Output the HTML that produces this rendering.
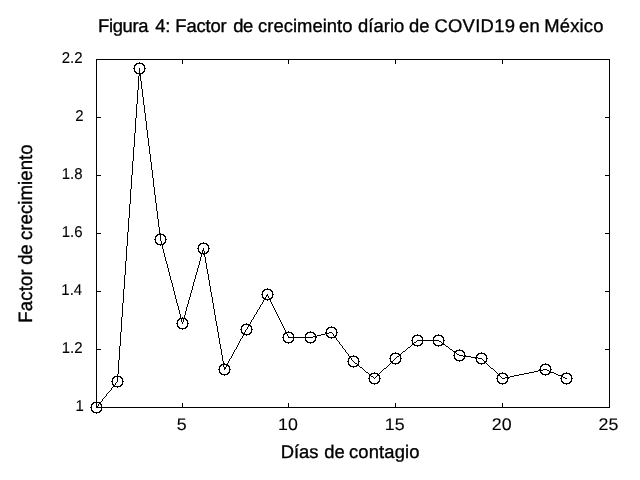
<!DOCTYPE html>
<html lang="es">
<head>
<meta charset="utf-8">
<title>Figura 4: Factor de crecimeinto díario de COVID19 en México</title>
<style>
html,body{margin:0;padding:0;background:#fff;}
body{width:640px;height:480px;overflow:hidden;}
svg{display:block;}
text{font-family:"Liberation Sans",Arial,Helvetica,sans-serif;fill:#000;stroke:#000;stroke-width:0.35px;stroke-linejoin:round;text-rendering:geometricPrecision;}
.t{font-size:18.4px;}
.l{font-size:18.4px;}
.yl{font-size:19.3px;}
.kx text{font-size:16.8px;stroke-width:0.1px;}
.ky text{font-size:15.7px;stroke-width:0.1px;}
</style>
</head>
<body>
<svg width="640" height="480" viewBox="0 0 640 480">
<rect width="640" height="480" fill="#fff"/>
<path shape-rendering="crispEdges" fill="#000" d="M96 59h514v1h-514zM96 60h1v1h-1zM182 60h1v1h-1zM288 60h1v1h-1zM395 60h1v1h-1zM502 60h1v1h-1zM609 60h1v1h-1zM96 61h1v1h-1zM182 61h1v1h-1zM288 61h1v1h-1zM395 61h1v1h-1zM502 61h1v1h-1zM609 61h1v1h-1zM96 62h1v1h-1zM139 62h1v1h-1zM182 62h1v1h-1zM288 62h1v1h-1zM395 62h1v1h-1zM502 62h1v1h-1zM609 62h1v1h-1zM96 63h1v1h-1zM136 63h7v1h-7zM182 63h1v1h-1zM288 63h1v1h-1zM395 63h1v1h-1zM502 63h1v1h-1zM609 63h1v1h-1zM96 64h1v1h-1zM135 64h2v1h-2zM142 64h2v1h-2zM609 64h1v1h-1zM96 65h1v1h-1zM134 65h2v1h-2zM143 65h2v1h-2zM609 65h1v1h-1zM96 66h1v1h-1zM134 66h1v1h-1zM144 66h1v1h-1zM609 66h1v1h-1zM96 67h1v1h-1zM134 67h1v1h-1zM144 67h1v1h-1zM609 67h1v1h-1zM96 68h1v1h-1zM133 68h2v1h-2zM139 68h1v1h-1zM144 68h2v1h-2zM609 68h1v1h-1zM96 69h1v1h-1zM134 69h1v1h-1zM139 69h1v1h-1zM144 69h1v1h-1zM609 69h1v1h-1zM96 70h1v1h-1zM134 70h1v1h-1zM139 70h1v1h-1zM144 70h1v1h-1zM609 70h1v1h-1zM96 71h1v1h-1zM134 71h2v1h-2zM139 71h1v1h-1zM143 71h2v1h-2zM609 71h1v1h-1zM96 72h1v1h-1zM135 72h2v1h-2zM139 72h1v1h-1zM142 72h2v1h-2zM609 72h1v1h-1zM96 73h1v1h-1zM136 73h7v1h-7zM609 73h1v1h-1zM96 74h1v1h-1zM139 74h2v1h-2zM609 74h1v1h-1zM96 75h1v1h-1zM139 75h2v1h-2zM609 75h1v1h-1zM96 76h1v1h-1zM138 76h1v1h-1zM140 76h1v1h-1zM609 76h1v1h-1zM96 77h1v1h-1zM138 77h1v1h-1zM140 77h1v1h-1zM609 77h1v1h-1zM96 78h1v1h-1zM138 78h1v1h-1zM140 78h1v1h-1zM609 78h1v1h-1zM96 79h1v1h-1zM138 79h1v1h-1zM140 79h1v1h-1zM609 79h1v1h-1zM96 80h1v1h-1zM138 80h1v1h-1zM140 80h1v1h-1zM609 80h1v1h-1zM96 81h1v1h-1zM138 81h1v1h-1zM141 81h1v1h-1zM609 81h1v1h-1zM96 82h1v1h-1zM138 82h1v1h-1zM141 82h1v1h-1zM609 82h1v1h-1zM96 83h1v1h-1zM138 83h1v1h-1zM141 83h1v1h-1zM609 83h1v1h-1zM96 84h1v1h-1zM138 84h1v1h-1zM141 84h1v1h-1zM609 84h1v1h-1zM96 85h1v1h-1zM138 85h1v1h-1zM141 85h1v1h-1zM609 85h1v1h-1zM96 86h1v1h-1zM138 86h1v1h-1zM141 86h1v1h-1zM609 86h1v1h-1zM96 87h1v1h-1zM138 87h1v1h-1zM141 87h1v1h-1zM609 87h1v1h-1zM96 88h1v1h-1zM138 88h1v1h-1zM141 88h1v1h-1zM609 88h1v1h-1zM96 89h1v1h-1zM138 89h1v1h-1zM142 89h1v1h-1zM609 89h1v1h-1zM96 90h1v1h-1zM137 90h1v1h-1zM142 90h1v1h-1zM609 90h1v1h-1zM96 91h1v1h-1zM137 91h1v1h-1zM142 91h1v1h-1zM609 91h1v1h-1zM96 92h1v1h-1zM137 92h1v1h-1zM142 92h1v1h-1zM609 92h1v1h-1zM96 93h1v1h-1zM137 93h1v1h-1zM142 93h1v1h-1zM609 93h1v1h-1zM96 94h1v1h-1zM137 94h1v1h-1zM142 94h1v1h-1zM609 94h1v1h-1zM96 95h1v1h-1zM137 95h1v1h-1zM142 95h1v1h-1zM609 95h1v1h-1zM96 96h1v1h-1zM137 96h1v1h-1zM142 96h1v1h-1zM609 96h1v1h-1zM96 97h1v1h-1zM137 97h1v1h-1zM143 97h1v1h-1zM609 97h1v1h-1zM96 98h1v1h-1zM137 98h1v1h-1zM143 98h1v1h-1zM609 98h1v1h-1zM96 99h1v1h-1zM137 99h1v1h-1zM143 99h1v1h-1zM609 99h1v1h-1zM96 100h1v1h-1zM137 100h1v1h-1zM143 100h1v1h-1zM609 100h1v1h-1zM96 101h1v1h-1zM137 101h1v1h-1zM143 101h1v1h-1zM609 101h1v1h-1zM96 102h1v1h-1zM137 102h1v1h-1zM143 102h1v1h-1zM609 102h1v1h-1zM96 103h1v1h-1zM137 103h1v1h-1zM143 103h1v1h-1zM609 103h1v1h-1zM96 104h1v1h-1zM136 104h1v1h-1zM143 104h1v1h-1zM609 104h1v1h-1zM96 105h1v1h-1zM136 105h1v1h-1zM144 105h1v1h-1zM609 105h1v1h-1zM96 106h1v1h-1zM136 106h1v1h-1zM144 106h1v1h-1zM609 106h1v1h-1zM96 107h1v1h-1zM136 107h1v1h-1zM144 107h1v1h-1zM609 107h1v1h-1zM96 108h1v1h-1zM136 108h1v1h-1zM144 108h1v1h-1zM609 108h1v1h-1zM96 109h1v1h-1zM136 109h1v1h-1zM144 109h1v1h-1zM609 109h1v1h-1zM96 110h1v1h-1zM136 110h1v1h-1zM144 110h1v1h-1zM609 110h1v1h-1zM96 111h1v1h-1zM136 111h1v1h-1zM144 111h1v1h-1zM609 111h1v1h-1zM96 112h1v1h-1zM136 112h1v1h-1zM144 112h1v1h-1zM609 112h1v1h-1zM96 113h1v1h-1zM136 113h1v1h-1zM145 113h1v1h-1zM609 113h1v1h-1zM96 114h1v1h-1zM136 114h1v1h-1zM145 114h1v1h-1zM609 114h1v1h-1zM96 115h1v1h-1zM136 115h1v1h-1zM145 115h1v1h-1zM609 115h1v1h-1zM96 116h1v1h-1zM136 116h1v1h-1zM145 116h1v1h-1zM609 116h1v1h-1zM96 117h5v1h-5zM136 117h1v1h-1zM145 117h1v1h-1zM605 117h5v1h-5zM96 118h1v1h-1zM135 118h1v1h-1zM145 118h1v1h-1zM609 118h1v1h-1zM96 119h1v1h-1zM135 119h1v1h-1zM145 119h1v1h-1zM609 119h1v1h-1zM96 120h1v1h-1zM135 120h1v1h-1zM145 120h1v1h-1zM609 120h1v1h-1zM96 121h1v1h-1zM135 121h1v1h-1zM146 121h1v1h-1zM609 121h1v1h-1zM96 122h1v1h-1zM135 122h1v1h-1zM146 122h1v1h-1zM609 122h1v1h-1zM96 123h1v1h-1zM135 123h1v1h-1zM146 123h1v1h-1zM609 123h1v1h-1zM96 124h1v1h-1zM135 124h1v1h-1zM146 124h1v1h-1zM609 124h1v1h-1zM96 125h1v1h-1zM135 125h1v1h-1zM146 125h1v1h-1zM609 125h1v1h-1zM96 126h1v1h-1zM135 126h1v1h-1zM146 126h1v1h-1zM609 126h1v1h-1zM96 127h1v1h-1zM135 127h1v1h-1zM146 127h1v1h-1zM609 127h1v1h-1zM96 128h1v1h-1zM135 128h1v1h-1zM146 128h1v1h-1zM609 128h1v1h-1zM96 129h1v1h-1zM135 129h1v1h-1zM146 129h1v1h-1zM609 129h1v1h-1zM96 130h1v1h-1zM135 130h1v1h-1zM147 130h1v1h-1zM609 130h1v1h-1zM96 131h1v1h-1zM135 131h1v1h-1zM147 131h1v1h-1zM609 131h1v1h-1zM96 132h1v1h-1zM135 132h1v1h-1zM147 132h1v1h-1zM609 132h1v1h-1zM96 133h1v1h-1zM134 133h1v1h-1zM147 133h1v1h-1zM609 133h1v1h-1zM96 134h1v1h-1zM134 134h1v1h-1zM147 134h1v1h-1zM609 134h1v1h-1zM96 135h1v1h-1zM134 135h1v1h-1zM147 135h1v1h-1zM609 135h1v1h-1zM96 136h1v1h-1zM134 136h1v1h-1zM147 136h1v1h-1zM609 136h1v1h-1zM96 137h1v1h-1zM134 137h1v1h-1zM147 137h1v1h-1zM609 137h1v1h-1zM96 138h1v1h-1zM134 138h1v1h-1zM148 138h1v1h-1zM609 138h1v1h-1zM96 139h1v1h-1zM134 139h1v1h-1zM148 139h1v1h-1zM609 139h1v1h-1zM96 140h1v1h-1zM134 140h1v1h-1zM148 140h1v1h-1zM609 140h1v1h-1zM96 141h1v1h-1zM134 141h1v1h-1zM148 141h1v1h-1zM609 141h1v1h-1zM96 142h1v1h-1zM134 142h1v1h-1zM148 142h1v1h-1zM609 142h1v1h-1zM96 143h1v1h-1zM134 143h1v1h-1zM148 143h1v1h-1zM609 143h1v1h-1zM96 144h1v1h-1zM134 144h1v1h-1zM148 144h1v1h-1zM609 144h1v1h-1zM96 145h1v1h-1zM134 145h1v1h-1zM148 145h1v1h-1zM609 145h1v1h-1zM96 146h1v1h-1zM134 146h1v1h-1zM149 146h1v1h-1zM609 146h1v1h-1zM96 147h1v1h-1zM133 147h1v1h-1zM149 147h1v1h-1zM609 147h1v1h-1zM96 148h1v1h-1zM133 148h1v1h-1zM149 148h1v1h-1zM609 148h1v1h-1zM96 149h1v1h-1zM133 149h1v1h-1zM149 149h1v1h-1zM609 149h1v1h-1zM96 150h1v1h-1zM133 150h1v1h-1zM149 150h1v1h-1zM609 150h1v1h-1zM96 151h1v1h-1zM133 151h1v1h-1zM149 151h1v1h-1zM609 151h1v1h-1zM96 152h1v1h-1zM133 152h1v1h-1zM149 152h1v1h-1zM609 152h1v1h-1zM96 153h1v1h-1zM133 153h1v1h-1zM149 153h1v1h-1zM609 153h1v1h-1zM96 154h1v1h-1zM133 154h1v1h-1zM150 154h1v1h-1zM609 154h1v1h-1zM96 155h1v1h-1zM133 155h1v1h-1zM150 155h1v1h-1zM609 155h1v1h-1zM96 156h1v1h-1zM133 156h1v1h-1zM150 156h1v1h-1zM609 156h1v1h-1zM96 157h1v1h-1zM133 157h1v1h-1zM150 157h1v1h-1zM609 157h1v1h-1zM96 158h1v1h-1zM133 158h1v1h-1zM150 158h1v1h-1zM609 158h1v1h-1zM96 159h1v1h-1zM133 159h1v1h-1zM150 159h1v1h-1zM609 159h1v1h-1zM96 160h1v1h-1zM133 160h1v1h-1zM150 160h1v1h-1zM609 160h1v1h-1zM96 161h1v1h-1zM132 161h1v1h-1zM150 161h1v1h-1zM609 161h1v1h-1zM96 162h1v1h-1zM132 162h1v1h-1zM151 162h1v1h-1zM609 162h1v1h-1zM96 163h1v1h-1zM132 163h1v1h-1zM151 163h1v1h-1zM609 163h1v1h-1zM96 164h1v1h-1zM132 164h1v1h-1zM151 164h1v1h-1zM609 164h1v1h-1zM96 165h1v1h-1zM132 165h1v1h-1zM151 165h1v1h-1zM609 165h1v1h-1zM96 166h1v1h-1zM132 166h1v1h-1zM151 166h1v1h-1zM609 166h1v1h-1zM96 167h1v1h-1zM132 167h1v1h-1zM151 167h1v1h-1zM609 167h1v1h-1zM96 168h1v1h-1zM132 168h1v1h-1zM151 168h1v1h-1zM609 168h1v1h-1zM96 169h1v1h-1zM132 169h1v1h-1zM151 169h1v1h-1zM609 169h1v1h-1zM96 170h1v1h-1zM132 170h1v1h-1zM152 170h1v1h-1zM609 170h1v1h-1zM96 171h1v1h-1zM132 171h1v1h-1zM152 171h1v1h-1zM609 171h1v1h-1zM96 172h1v1h-1zM132 172h1v1h-1zM152 172h1v1h-1zM609 172h1v1h-1zM96 173h1v1h-1zM132 173h1v1h-1zM152 173h1v1h-1zM609 173h1v1h-1zM96 174h1v1h-1zM132 174h1v1h-1zM152 174h1v1h-1zM609 174h1v1h-1zM96 175h5v1h-5zM131 175h1v1h-1zM152 175h1v1h-1zM605 175h5v1h-5zM96 176h1v1h-1zM131 176h1v1h-1zM152 176h1v1h-1zM609 176h1v1h-1zM96 177h1v1h-1zM131 177h1v1h-1zM152 177h1v1h-1zM609 177h1v1h-1zM96 178h1v1h-1zM131 178h1v1h-1zM153 178h1v1h-1zM609 178h1v1h-1zM96 179h1v1h-1zM131 179h1v1h-1zM153 179h1v1h-1zM609 179h1v1h-1zM96 180h1v1h-1zM131 180h1v1h-1zM153 180h1v1h-1zM609 180h1v1h-1zM96 181h1v1h-1zM131 181h1v1h-1zM153 181h1v1h-1zM609 181h1v1h-1zM96 182h1v1h-1zM131 182h1v1h-1zM153 182h1v1h-1zM609 182h1v1h-1zM96 183h1v1h-1zM131 183h1v1h-1zM153 183h1v1h-1zM609 183h1v1h-1zM96 184h1v1h-1zM131 184h1v1h-1zM153 184h1v1h-1zM609 184h1v1h-1zM96 185h1v1h-1zM131 185h1v1h-1zM153 185h1v1h-1zM609 185h1v1h-1zM96 186h1v1h-1zM131 186h1v1h-1zM153 186h1v1h-1zM609 186h1v1h-1zM96 187h1v1h-1zM131 187h1v1h-1zM154 187h1v1h-1zM609 187h1v1h-1zM96 188h1v1h-1zM131 188h1v1h-1zM154 188h1v1h-1zM609 188h1v1h-1zM96 189h1v1h-1zM130 189h1v1h-1zM154 189h1v1h-1zM609 189h1v1h-1zM96 190h1v1h-1zM130 190h1v1h-1zM154 190h1v1h-1zM609 190h1v1h-1zM96 191h1v1h-1zM130 191h1v1h-1zM154 191h1v1h-1zM609 191h1v1h-1zM96 192h1v1h-1zM130 192h1v1h-1zM154 192h1v1h-1zM609 192h1v1h-1zM96 193h1v1h-1zM130 193h1v1h-1zM154 193h1v1h-1zM609 193h1v1h-1zM96 194h1v1h-1zM130 194h1v1h-1zM154 194h1v1h-1zM609 194h1v1h-1zM96 195h1v1h-1zM130 195h1v1h-1zM155 195h1v1h-1zM609 195h1v1h-1zM96 196h1v1h-1zM130 196h1v1h-1zM155 196h1v1h-1zM609 196h1v1h-1zM96 197h1v1h-1zM130 197h1v1h-1zM155 197h1v1h-1zM609 197h1v1h-1zM96 198h1v1h-1zM130 198h1v1h-1zM155 198h1v1h-1zM609 198h1v1h-1zM96 199h1v1h-1zM130 199h1v1h-1zM155 199h1v1h-1zM609 199h1v1h-1zM96 200h1v1h-1zM130 200h1v1h-1zM155 200h1v1h-1zM609 200h1v1h-1zM96 201h1v1h-1zM130 201h1v1h-1zM155 201h1v1h-1zM609 201h1v1h-1zM96 202h1v1h-1zM130 202h1v1h-1zM155 202h1v1h-1zM609 202h1v1h-1zM96 203h1v1h-1zM130 203h1v1h-1zM156 203h1v1h-1zM609 203h1v1h-1zM96 204h1v1h-1zM129 204h1v1h-1zM156 204h1v1h-1zM609 204h1v1h-1zM96 205h1v1h-1zM129 205h1v1h-1zM156 205h1v1h-1zM609 205h1v1h-1zM96 206h1v1h-1zM129 206h1v1h-1zM156 206h1v1h-1zM609 206h1v1h-1zM96 207h1v1h-1zM129 207h1v1h-1zM156 207h1v1h-1zM609 207h1v1h-1zM96 208h1v1h-1zM129 208h1v1h-1zM156 208h1v1h-1zM609 208h1v1h-1zM96 209h1v1h-1zM129 209h1v1h-1zM156 209h1v1h-1zM609 209h1v1h-1zM96 210h1v1h-1zM129 210h1v1h-1zM156 210h1v1h-1zM609 210h1v1h-1zM96 211h1v1h-1zM129 211h1v1h-1zM157 211h1v1h-1zM609 211h1v1h-1zM96 212h1v1h-1zM129 212h1v1h-1zM157 212h1v1h-1zM609 212h1v1h-1zM96 213h1v1h-1zM129 213h1v1h-1zM157 213h1v1h-1zM609 213h1v1h-1zM96 214h1v1h-1zM129 214h1v1h-1zM157 214h1v1h-1zM609 214h1v1h-1zM96 215h1v1h-1zM129 215h1v1h-1zM157 215h1v1h-1zM609 215h1v1h-1zM96 216h1v1h-1zM129 216h1v1h-1zM157 216h1v1h-1zM609 216h1v1h-1zM96 217h1v1h-1zM129 217h1v1h-1zM157 217h1v1h-1zM609 217h1v1h-1zM96 218h1v1h-1zM128 218h1v1h-1zM157 218h1v1h-1zM609 218h1v1h-1zM96 219h1v1h-1zM128 219h1v1h-1zM158 219h1v1h-1zM609 219h1v1h-1zM96 220h1v1h-1zM128 220h1v1h-1zM158 220h1v1h-1zM609 220h1v1h-1zM96 221h1v1h-1zM128 221h1v1h-1zM158 221h1v1h-1zM609 221h1v1h-1zM96 222h1v1h-1zM128 222h1v1h-1zM158 222h1v1h-1zM609 222h1v1h-1zM96 223h1v1h-1zM128 223h1v1h-1zM158 223h1v1h-1zM609 223h1v1h-1zM96 224h1v1h-1zM128 224h1v1h-1zM158 224h1v1h-1zM609 224h1v1h-1zM96 225h1v1h-1zM128 225h1v1h-1zM158 225h1v1h-1zM609 225h1v1h-1zM96 226h1v1h-1zM128 226h1v1h-1zM158 226h1v1h-1zM609 226h1v1h-1zM96 227h1v1h-1zM128 227h1v1h-1zM159 227h1v1h-1zM609 227h1v1h-1zM96 228h1v1h-1zM128 228h1v1h-1zM159 228h1v1h-1zM609 228h1v1h-1zM96 229h1v1h-1zM128 229h1v1h-1zM159 229h1v1h-1zM609 229h1v1h-1zM96 230h1v1h-1zM128 230h1v1h-1zM159 230h1v1h-1zM609 230h1v1h-1zM96 231h1v1h-1zM128 231h1v1h-1zM159 231h1v1h-1zM609 231h1v1h-1zM96 232h1v1h-1zM127 232h1v1h-1zM159 232h1v1h-1zM609 232h1v1h-1zM96 233h5v1h-5zM127 233h1v1h-1zM159 233h2v1h-2zM605 233h5v1h-5zM96 234h1v1h-1zM127 234h1v1h-1zM157 234h7v1h-7zM609 234h1v1h-1zM96 235h1v1h-1zM127 235h1v1h-1zM156 235h2v1h-2zM160 235h1v1h-1zM163 235h2v1h-2zM609 235h1v1h-1zM96 236h1v1h-1zM127 236h1v1h-1zM155 236h2v1h-2zM160 236h1v1h-1zM164 236h2v1h-2zM609 236h1v1h-1zM96 237h1v1h-1zM127 237h1v1h-1zM155 237h1v1h-1zM160 237h1v1h-1zM165 237h1v1h-1zM609 237h1v1h-1zM96 238h1v1h-1zM127 238h1v1h-1zM155 238h1v1h-1zM160 238h1v1h-1zM165 238h1v1h-1zM609 238h1v1h-1zM96 239h1v1h-1zM127 239h1v1h-1zM154 239h2v1h-2zM160 239h1v1h-1zM165 239h2v1h-2zM609 239h1v1h-1zM96 240h1v1h-1zM127 240h1v1h-1zM155 240h1v1h-1zM160 240h1v1h-1zM165 240h1v1h-1zM609 240h1v1h-1zM96 241h1v1h-1zM127 241h1v1h-1zM155 241h1v1h-1zM161 241h1v1h-1zM165 241h1v1h-1zM609 241h1v1h-1zM96 242h1v1h-1zM127 242h1v1h-1zM155 242h2v1h-2zM161 242h1v1h-1zM164 242h2v1h-2zM203 242h1v1h-1zM609 242h1v1h-1zM96 243h1v1h-1zM127 243h1v1h-1zM156 243h2v1h-2zM161 243h1v1h-1zM163 243h2v1h-2zM200 243h7v1h-7zM609 243h1v1h-1zM96 244h1v1h-1zM127 244h1v1h-1zM157 244h7v1h-7zM199 244h2v1h-2zM206 244h2v1h-2zM609 244h1v1h-1zM96 245h1v1h-1zM127 245h1v1h-1zM160 245h1v1h-1zM162 245h1v1h-1zM198 245h2v1h-2zM207 245h2v1h-2zM609 245h1v1h-1zM96 246h1v1h-1zM126 246h1v1h-1zM162 246h1v1h-1zM198 246h1v1h-1zM208 246h1v1h-1zM609 246h1v1h-1zM96 247h1v1h-1zM126 247h1v1h-1zM162 247h1v1h-1zM198 247h1v1h-1zM208 247h1v1h-1zM609 247h1v1h-1zM96 248h1v1h-1zM126 248h1v1h-1zM162 248h1v1h-1zM197 248h2v1h-2zM203 248h1v1h-1zM208 248h2v1h-2zM609 248h1v1h-1zM96 249h1v1h-1zM126 249h1v1h-1zM163 249h1v1h-1zM198 249h1v1h-1zM203 249h1v1h-1zM208 249h1v1h-1zM609 249h1v1h-1zM96 250h1v1h-1zM126 250h1v1h-1zM163 250h1v1h-1zM198 250h1v1h-1zM202 250h2v1h-2zM208 250h1v1h-1zM609 250h1v1h-1zM96 251h1v1h-1zM126 251h1v1h-1zM163 251h1v1h-1zM198 251h2v1h-2zM202 251h1v1h-1zM204 251h1v1h-1zM207 251h2v1h-2zM609 251h1v1h-1zM96 252h1v1h-1zM126 252h1v1h-1zM163 252h1v1h-1zM199 252h2v1h-2zM202 252h1v1h-1zM204 252h1v1h-1zM206 252h2v1h-2zM609 252h1v1h-1zM96 253h1v1h-1zM126 253h1v1h-1zM164 253h1v1h-1zM200 253h7v1h-7zM609 253h1v1h-1zM96 254h1v1h-1zM126 254h1v1h-1zM164 254h1v1h-1zM201 254h1v1h-1zM203 254h2v1h-2zM609 254h1v1h-1zM96 255h1v1h-1zM126 255h1v1h-1zM164 255h1v1h-1zM201 255h1v1h-1zM204 255h1v1h-1zM609 255h1v1h-1zM96 256h1v1h-1zM126 256h1v1h-1zM164 256h1v1h-1zM201 256h1v1h-1zM204 256h1v1h-1zM609 256h1v1h-1zM96 257h1v1h-1zM126 257h1v1h-1zM165 257h1v1h-1zM200 257h1v1h-1zM205 257h1v1h-1zM609 257h1v1h-1zM96 258h1v1h-1zM126 258h1v1h-1zM165 258h1v1h-1zM200 258h1v1h-1zM205 258h1v1h-1zM609 258h1v1h-1zM96 259h1v1h-1zM126 259h1v1h-1zM165 259h1v1h-1zM200 259h1v1h-1zM205 259h1v1h-1zM609 259h1v1h-1zM96 260h1v1h-1zM126 260h1v1h-1zM165 260h1v1h-1zM200 260h1v1h-1zM205 260h1v1h-1zM609 260h1v1h-1zM96 261h1v1h-1zM125 261h1v1h-1zM166 261h1v1h-1zM199 261h1v1h-1zM205 261h1v1h-1zM609 261h1v1h-1zM96 262h1v1h-1zM125 262h1v1h-1zM166 262h1v1h-1zM199 262h1v1h-1zM205 262h1v1h-1zM609 262h1v1h-1zM96 263h1v1h-1zM125 263h1v1h-1zM166 263h1v1h-1zM199 263h1v1h-1zM206 263h1v1h-1zM609 263h1v1h-1zM96 264h1v1h-1zM125 264h1v1h-1zM167 264h1v1h-1zM199 264h1v1h-1zM206 264h1v1h-1zM609 264h1v1h-1zM96 265h1v1h-1zM125 265h1v1h-1zM167 265h1v1h-1zM198 265h1v1h-1zM206 265h1v1h-1zM609 265h1v1h-1zM96 266h1v1h-1zM125 266h1v1h-1zM167 266h1v1h-1zM198 266h1v1h-1zM206 266h1v1h-1zM609 266h1v1h-1zM96 267h1v1h-1zM125 267h1v1h-1zM167 267h1v1h-1zM198 267h1v1h-1zM206 267h1v1h-1zM609 267h1v1h-1zM96 268h1v1h-1zM125 268h1v1h-1zM168 268h1v1h-1zM197 268h1v1h-1zM206 268h1v1h-1zM609 268h1v1h-1zM96 269h1v1h-1zM125 269h1v1h-1zM168 269h1v1h-1zM197 269h1v1h-1zM207 269h1v1h-1zM609 269h1v1h-1zM96 270h1v1h-1zM125 270h1v1h-1zM168 270h1v1h-1zM197 270h1v1h-1zM207 270h1v1h-1zM609 270h1v1h-1zM96 271h1v1h-1zM125 271h1v1h-1zM168 271h1v1h-1zM197 271h1v1h-1zM207 271h1v1h-1zM609 271h1v1h-1zM96 272h1v1h-1zM125 272h1v1h-1zM169 272h1v1h-1zM196 272h1v1h-1zM207 272h1v1h-1zM609 272h1v1h-1zM96 273h1v1h-1zM125 273h1v1h-1zM169 273h1v1h-1zM196 273h1v1h-1zM207 273h1v1h-1zM609 273h1v1h-1zM96 274h1v1h-1zM125 274h1v1h-1zM169 274h1v1h-1zM196 274h1v1h-1zM208 274h1v1h-1zM609 274h1v1h-1zM96 275h1v1h-1zM124 275h1v1h-1zM169 275h1v1h-1zM195 275h1v1h-1zM208 275h1v1h-1zM609 275h1v1h-1zM96 276h1v1h-1zM124 276h1v1h-1zM170 276h1v1h-1zM195 276h1v1h-1zM208 276h1v1h-1zM609 276h1v1h-1zM96 277h1v1h-1zM124 277h1v1h-1zM170 277h1v1h-1zM195 277h1v1h-1zM208 277h1v1h-1zM609 277h1v1h-1zM96 278h1v1h-1zM124 278h1v1h-1zM170 278h1v1h-1zM195 278h1v1h-1zM208 278h1v1h-1zM609 278h1v1h-1zM96 279h1v1h-1zM124 279h1v1h-1zM170 279h1v1h-1zM194 279h1v1h-1zM208 279h1v1h-1zM609 279h1v1h-1zM96 280h1v1h-1zM124 280h1v1h-1zM171 280h1v1h-1zM194 280h1v1h-1zM209 280h1v1h-1zM609 280h1v1h-1zM96 281h1v1h-1zM124 281h1v1h-1zM171 281h1v1h-1zM194 281h1v1h-1zM209 281h1v1h-1zM609 281h1v1h-1zM96 282h1v1h-1zM124 282h1v1h-1zM171 282h1v1h-1zM193 282h1v1h-1zM209 282h1v1h-1zM609 282h1v1h-1zM96 283h1v1h-1zM124 283h1v1h-1zM172 283h1v1h-1zM193 283h1v1h-1zM209 283h1v1h-1zM609 283h1v1h-1zM96 284h1v1h-1zM124 284h1v1h-1zM172 284h1v1h-1zM193 284h1v1h-1zM209 284h1v1h-1zM609 284h1v1h-1zM96 285h1v1h-1zM124 285h1v1h-1zM172 285h1v1h-1zM193 285h1v1h-1zM209 285h1v1h-1zM609 285h1v1h-1zM96 286h1v1h-1zM124 286h1v1h-1zM172 286h1v1h-1zM192 286h1v1h-1zM210 286h1v1h-1zM609 286h1v1h-1zM96 287h1v1h-1zM124 287h1v1h-1zM173 287h1v1h-1zM192 287h1v1h-1zM210 287h1v1h-1zM609 287h1v1h-1zM96 288h1v1h-1zM124 288h1v1h-1zM173 288h1v1h-1zM192 288h1v1h-1zM210 288h1v1h-1zM267 288h1v1h-1zM609 288h1v1h-1zM96 289h1v1h-1zM123 289h1v1h-1zM173 289h1v1h-1zM192 289h1v1h-1zM210 289h1v1h-1zM264 289h7v1h-7zM609 289h1v1h-1zM96 290h1v1h-1zM123 290h1v1h-1zM173 290h1v1h-1zM191 290h1v1h-1zM210 290h1v1h-1zM263 290h2v1h-2zM270 290h2v1h-2zM609 290h1v1h-1zM96 291h5v1h-5zM123 291h1v1h-1zM174 291h1v1h-1zM191 291h1v1h-1zM210 291h1v1h-1zM262 291h2v1h-2zM271 291h2v1h-2zM605 291h5v1h-5zM96 292h1v1h-1zM123 292h1v1h-1zM174 292h1v1h-1zM191 292h1v1h-1zM211 292h1v1h-1zM262 292h1v1h-1zM272 292h1v1h-1zM609 292h1v1h-1zM96 293h1v1h-1zM123 293h1v1h-1zM174 293h1v1h-1zM190 293h1v1h-1zM211 293h1v1h-1zM262 293h1v1h-1zM272 293h1v1h-1zM609 293h1v1h-1zM96 294h1v1h-1zM123 294h1v1h-1zM174 294h1v1h-1zM190 294h1v1h-1zM211 294h1v1h-1zM261 294h2v1h-2zM267 294h1v1h-1zM272 294h2v1h-2zM609 294h1v1h-1zM96 295h1v1h-1zM123 295h1v1h-1zM175 295h1v1h-1zM190 295h1v1h-1zM211 295h1v1h-1zM262 295h1v1h-1zM266 295h2v1h-2zM272 295h1v1h-1zM609 295h1v1h-1zM96 296h1v1h-1zM123 296h1v1h-1zM175 296h1v1h-1zM190 296h1v1h-1zM211 296h1v1h-1zM262 296h1v1h-1zM266 296h1v1h-1zM268 296h1v1h-1zM272 296h1v1h-1zM609 296h1v1h-1zM96 297h1v1h-1zM123 297h1v1h-1zM175 297h1v1h-1zM189 297h1v1h-1zM212 297h1v1h-1zM262 297h2v1h-2zM265 297h1v1h-1zM268 297h1v1h-1zM271 297h2v1h-2zM609 297h1v1h-1zM96 298h1v1h-1zM123 298h1v1h-1zM175 298h1v1h-1zM189 298h1v1h-1zM212 298h1v1h-1zM263 298h3v1h-3zM269 298h3v1h-3zM609 298h1v1h-1zM96 299h1v1h-1zM123 299h1v1h-1zM176 299h1v1h-1zM189 299h1v1h-1zM212 299h1v1h-1zM264 299h7v1h-7zM609 299h1v1h-1zM96 300h1v1h-1zM123 300h1v1h-1zM176 300h1v1h-1zM188 300h1v1h-1zM212 300h1v1h-1zM263 300h1v1h-1zM267 300h1v1h-1zM270 300h1v1h-1zM609 300h1v1h-1zM96 301h1v1h-1zM123 301h1v1h-1zM176 301h1v1h-1zM188 301h1v1h-1zM212 301h1v1h-1zM263 301h1v1h-1zM270 301h1v1h-1zM609 301h1v1h-1zM96 302h1v1h-1zM123 302h1v1h-1zM176 302h1v1h-1zM188 302h1v1h-1zM212 302h1v1h-1zM262 302h1v1h-1zM271 302h1v1h-1zM609 302h1v1h-1zM96 303h1v1h-1zM122 303h1v1h-1zM177 303h1v1h-1zM188 303h1v1h-1zM213 303h1v1h-1zM262 303h1v1h-1zM271 303h1v1h-1zM609 303h1v1h-1zM96 304h1v1h-1zM122 304h1v1h-1zM177 304h1v1h-1zM187 304h1v1h-1zM213 304h1v1h-1zM261 304h1v1h-1zM272 304h1v1h-1zM609 304h1v1h-1zM96 305h1v1h-1zM122 305h1v1h-1zM177 305h1v1h-1zM187 305h1v1h-1zM213 305h1v1h-1zM260 305h1v1h-1zM272 305h1v1h-1zM609 305h1v1h-1zM96 306h1v1h-1zM122 306h1v1h-1zM178 306h1v1h-1zM187 306h1v1h-1zM213 306h1v1h-1zM260 306h1v1h-1zM273 306h1v1h-1zM609 306h1v1h-1zM96 307h1v1h-1zM122 307h1v1h-1zM178 307h1v1h-1zM186 307h1v1h-1zM213 307h1v1h-1zM259 307h1v1h-1zM273 307h1v1h-1zM609 307h1v1h-1zM96 308h1v1h-1zM122 308h1v1h-1zM178 308h1v1h-1zM186 308h1v1h-1zM213 308h1v1h-1zM259 308h1v1h-1zM274 308h1v1h-1zM609 308h1v1h-1zM96 309h1v1h-1zM122 309h1v1h-1zM178 309h1v1h-1zM186 309h1v1h-1zM214 309h1v1h-1zM258 309h1v1h-1zM274 309h1v1h-1zM609 309h1v1h-1zM96 310h1v1h-1zM122 310h1v1h-1zM179 310h1v1h-1zM186 310h1v1h-1zM214 310h1v1h-1zM257 310h1v1h-1zM275 310h1v1h-1zM609 310h1v1h-1zM96 311h1v1h-1zM122 311h1v1h-1zM179 311h1v1h-1zM185 311h1v1h-1zM214 311h1v1h-1zM257 311h1v1h-1zM275 311h1v1h-1zM609 311h1v1h-1zM96 312h1v1h-1zM122 312h1v1h-1zM179 312h1v1h-1zM185 312h1v1h-1zM214 312h1v1h-1zM256 312h1v1h-1zM276 312h1v1h-1zM609 312h1v1h-1zM96 313h1v1h-1zM122 313h1v1h-1zM179 313h1v1h-1zM185 313h1v1h-1zM214 313h1v1h-1zM256 313h1v1h-1zM276 313h1v1h-1zM609 313h1v1h-1zM96 314h1v1h-1zM122 314h1v1h-1zM180 314h1v1h-1zM185 314h1v1h-1zM214 314h1v1h-1zM255 314h1v1h-1zM277 314h1v1h-1zM609 314h1v1h-1zM96 315h1v1h-1zM122 315h1v1h-1zM180 315h1v1h-1zM184 315h1v1h-1zM215 315h1v1h-1zM254 315h1v1h-1zM277 315h1v1h-1zM609 315h1v1h-1zM96 316h1v1h-1zM122 316h1v1h-1zM180 316h1v1h-1zM184 316h1v1h-1zM215 316h1v1h-1zM254 316h1v1h-1zM278 316h1v1h-1zM609 316h1v1h-1zM96 317h1v1h-1zM121 317h1v1h-1zM180 317h1v1h-1zM182 317h1v1h-1zM184 317h1v1h-1zM215 317h1v1h-1zM253 317h1v1h-1zM278 317h1v1h-1zM609 317h1v1h-1zM96 318h1v1h-1zM121 318h1v1h-1zM179 318h7v1h-7zM215 318h1v1h-1zM253 318h1v1h-1zM279 318h1v1h-1zM609 318h1v1h-1zM96 319h1v1h-1zM121 319h1v1h-1zM178 319h2v1h-2zM181 319h1v1h-1zM183 319h1v1h-1zM185 319h2v1h-2zM215 319h1v1h-1zM252 319h1v1h-1zM279 319h1v1h-1zM609 319h1v1h-1zM96 320h1v1h-1zM121 320h1v1h-1zM177 320h2v1h-2zM181 320h1v1h-1zM183 320h1v1h-1zM186 320h2v1h-2zM215 320h1v1h-1zM251 320h1v1h-1zM280 320h1v1h-1zM609 320h1v1h-1zM96 321h1v1h-1zM121 321h1v1h-1zM177 321h1v1h-1zM181 321h1v1h-1zM183 321h1v1h-1zM187 321h1v1h-1zM216 321h1v1h-1zM251 321h1v1h-1zM280 321h1v1h-1zM609 321h1v1h-1zM96 322h1v1h-1zM121 322h1v1h-1zM177 322h1v1h-1zM182 322h1v1h-1zM187 322h1v1h-1zM216 322h1v1h-1zM250 322h1v1h-1zM281 322h1v1h-1zM609 322h1v1h-1zM96 323h1v1h-1zM121 323h1v1h-1zM176 323h2v1h-2zM182 323h1v1h-1zM187 323h2v1h-2zM216 323h1v1h-1zM246 323h1v1h-1zM250 323h1v1h-1zM281 323h1v1h-1zM609 323h1v1h-1zM96 324h1v1h-1zM121 324h1v1h-1zM177 324h1v1h-1zM187 324h1v1h-1zM216 324h1v1h-1zM243 324h7v1h-7zM282 324h1v1h-1zM609 324h1v1h-1zM96 325h1v1h-1zM121 325h1v1h-1zM177 325h1v1h-1zM187 325h1v1h-1zM216 325h1v1h-1zM242 325h2v1h-2zM248 325h3v1h-3zM282 325h1v1h-1zM609 325h1v1h-1zM96 326h1v1h-1zM121 326h1v1h-1zM177 326h2v1h-2zM186 326h2v1h-2zM217 326h1v1h-1zM241 326h2v1h-2zM248 326h1v1h-1zM250 326h2v1h-2zM283 326h1v1h-1zM331 326h1v1h-1zM609 326h1v1h-1zM96 327h1v1h-1zM121 327h1v1h-1zM178 327h2v1h-2zM185 327h2v1h-2zM217 327h1v1h-1zM241 327h1v1h-1zM247 327h1v1h-1zM251 327h1v1h-1zM283 327h1v1h-1zM328 327h7v1h-7zM609 327h1v1h-1zM96 328h1v1h-1zM121 328h1v1h-1zM179 328h7v1h-7zM217 328h1v1h-1zM241 328h1v1h-1zM247 328h1v1h-1zM251 328h1v1h-1zM284 328h1v1h-1zM327 328h2v1h-2zM334 328h2v1h-2zM609 328h1v1h-1zM96 329h1v1h-1zM121 329h1v1h-1zM182 329h1v1h-1zM217 329h1v1h-1zM240 329h2v1h-2zM246 329h1v1h-1zM251 329h2v1h-2zM284 329h1v1h-1zM326 329h2v1h-2zM335 329h2v1h-2zM609 329h1v1h-1zM96 330h1v1h-1zM121 330h1v1h-1zM217 330h1v1h-1zM241 330h1v1h-1zM245 330h1v1h-1zM251 330h1v1h-1zM285 330h1v1h-1zM326 330h1v1h-1zM336 330h1v1h-1zM609 330h1v1h-1zM96 331h1v1h-1zM121 331h1v1h-1zM217 331h1v1h-1zM241 331h1v1h-1zM245 331h1v1h-1zM251 331h1v1h-1zM285 331h1v1h-1zM288 331h1v1h-1zM310 331h1v1h-1zM326 331h1v1h-1zM336 331h1v1h-1zM609 331h1v1h-1zM96 332h1v1h-1zM120 332h1v1h-1zM218 332h1v1h-1zM241 332h2v1h-2zM244 332h1v1h-1zM250 332h2v1h-2zM285 332h7v1h-7zM307 332h7v1h-7zM325 332h2v1h-2zM329 332h3v1h-3zM336 332h2v1h-2zM609 332h1v1h-1zM96 333h1v1h-1zM120 333h1v1h-1zM218 333h1v1h-1zM242 333h3v1h-3zM249 333h2v1h-2zM284 333h3v1h-3zM291 333h2v1h-2zM306 333h2v1h-2zM313 333h2v1h-2zM325 333h4v1h-4zM332 333h1v1h-1zM336 333h1v1h-1zM609 333h1v1h-1zM96 334h1v1h-1zM120 334h1v1h-1zM218 334h1v1h-1zM243 334h7v1h-7zM283 334h2v1h-2zM287 334h1v1h-1zM292 334h2v1h-2zM305 334h2v1h-2zM314 334h2v1h-2zM321 334h4v1h-4zM326 334h1v1h-1zM333 334h1v1h-1zM336 334h1v1h-1zM417 334h1v1h-1zM438 334h1v1h-1zM609 334h1v1h-1zM96 335h1v1h-1zM120 335h1v1h-1zM218 335h1v1h-1zM243 335h1v1h-1zM246 335h1v1h-1zM283 335h1v1h-1zM287 335h1v1h-1zM293 335h1v1h-1zM305 335h1v1h-1zM315 335h1v1h-1zM317 335h4v1h-4zM326 335h2v1h-2zM333 335h1v1h-1zM335 335h2v1h-2zM414 335h7v1h-7zM435 335h7v1h-7zM609 335h1v1h-1zM96 336h1v1h-1zM120 336h1v1h-1zM218 336h1v1h-1zM242 336h1v1h-1zM283 336h1v1h-1zM288 336h1v1h-1zM293 336h1v1h-1zM305 336h1v1h-1zM313 336h4v1h-4zM327 336h2v1h-2zM334 336h2v1h-2zM413 336h2v1h-2zM420 336h2v1h-2zM434 336h2v1h-2zM441 336h2v1h-2zM609 336h1v1h-1zM96 337h1v1h-1zM120 337h1v1h-1zM218 337h1v1h-1zM242 337h1v1h-1zM282 337h2v1h-2zM288 337h25v1h-25zM315 337h2v1h-2zM328 337h8v1h-8zM412 337h2v1h-2zM421 337h2v1h-2zM433 337h2v1h-2zM442 337h2v1h-2zM609 337h1v1h-1zM96 338h1v1h-1zM120 338h1v1h-1zM219 338h1v1h-1zM241 338h1v1h-1zM283 338h1v1h-1zM293 338h1v1h-1zM305 338h1v1h-1zM315 338h1v1h-1zM331 338h1v1h-1zM336 338h1v1h-1zM412 338h1v1h-1zM422 338h1v1h-1zM433 338h1v1h-1zM443 338h1v1h-1zM609 338h1v1h-1zM96 339h1v1h-1zM120 339h1v1h-1zM219 339h1v1h-1zM240 339h1v1h-1zM283 339h1v1h-1zM293 339h1v1h-1zM305 339h1v1h-1zM315 339h1v1h-1zM336 339h1v1h-1zM412 339h1v1h-1zM422 339h1v1h-1zM433 339h1v1h-1zM443 339h1v1h-1zM609 339h1v1h-1zM96 340h1v1h-1zM120 340h1v1h-1zM219 340h1v1h-1zM240 340h1v1h-1zM283 340h2v1h-2zM292 340h2v1h-2zM305 340h2v1h-2zM314 340h2v1h-2zM337 340h1v1h-1zM411 340h2v1h-2zM417 340h22v1h-22zM443 340h2v1h-2zM609 340h1v1h-1zM96 341h1v1h-1zM120 341h1v1h-1zM219 341h1v1h-1zM239 341h1v1h-1zM284 341h2v1h-2zM291 341h2v1h-2zM306 341h2v1h-2zM313 341h2v1h-2zM338 341h1v1h-1zM412 341h1v1h-1zM416 341h1v1h-1zM422 341h1v1h-1zM433 341h1v1h-1zM439 341h2v1h-2zM443 341h1v1h-1zM609 341h1v1h-1zM96 342h1v1h-1zM120 342h1v1h-1zM219 342h1v1h-1zM239 342h1v1h-1zM285 342h7v1h-7zM307 342h7v1h-7zM339 342h1v1h-1zM412 342h1v1h-1zM414 342h2v1h-2zM422 342h1v1h-1zM433 342h1v1h-1zM441 342h1v1h-1zM443 342h1v1h-1zM609 342h1v1h-1zM96 343h1v1h-1zM120 343h1v1h-1zM219 343h1v1h-1zM238 343h1v1h-1zM288 343h1v1h-1zM310 343h1v1h-1zM339 343h1v1h-1zM412 343h2v1h-2zM421 343h2v1h-2zM433 343h2v1h-2zM442 343h2v1h-2zM609 343h1v1h-1zM96 344h1v1h-1zM120 344h1v1h-1zM220 344h1v1h-1zM238 344h1v1h-1zM340 344h1v1h-1zM412 344h3v1h-3zM420 344h2v1h-2zM434 344h2v1h-2zM441 344h4v1h-4zM609 344h1v1h-1zM96 345h1v1h-1zM120 345h1v1h-1zM220 345h1v1h-1zM237 345h1v1h-1zM341 345h1v1h-1zM411 345h1v1h-1zM414 345h7v1h-7zM435 345h7v1h-7zM445 345h1v1h-1zM609 345h1v1h-1zM96 346h1v1h-1zM119 346h1v1h-1zM220 346h1v1h-1zM237 346h1v1h-1zM342 346h1v1h-1zM410 346h1v1h-1zM417 346h1v1h-1zM438 346h1v1h-1zM446 346h2v1h-2zM609 346h1v1h-1zM96 347h1v1h-1zM119 347h1v1h-1zM220 347h1v1h-1zM236 347h1v1h-1zM342 347h1v1h-1zM408 347h2v1h-2zM448 347h1v1h-1zM609 347h1v1h-1zM96 348h1v1h-1zM119 348h1v1h-1zM220 348h1v1h-1zM236 348h1v1h-1zM343 348h1v1h-1zM407 348h1v1h-1zM449 348h1v1h-1zM609 348h1v1h-1zM96 349h5v1h-5zM119 349h1v1h-1zM221 349h1v1h-1zM235 349h1v1h-1zM344 349h1v1h-1zM406 349h1v1h-1zM450 349h2v1h-2zM459 349h1v1h-1zM605 349h5v1h-5zM96 350h1v1h-1zM119 350h1v1h-1zM221 350h1v1h-1zM234 350h1v1h-1zM345 350h1v1h-1zM405 350h1v1h-1zM452 350h1v1h-1zM456 350h7v1h-7zM609 350h1v1h-1zM96 351h1v1h-1zM119 351h1v1h-1zM221 351h1v1h-1zM234 351h1v1h-1zM345 351h1v1h-1zM403 351h2v1h-2zM453 351h4v1h-4zM462 351h2v1h-2zM609 351h1v1h-1zM96 352h1v1h-1zM119 352h1v1h-1zM221 352h1v1h-1zM233 352h1v1h-1zM346 352h1v1h-1zM395 352h1v1h-1zM402 352h1v1h-1zM454 352h2v1h-2zM463 352h2v1h-2zM481 352h1v1h-1zM609 352h1v1h-1zM96 353h1v1h-1zM119 353h1v1h-1zM221 353h1v1h-1zM233 353h1v1h-1zM347 353h1v1h-1zM392 353h7v1h-7zM401 353h1v1h-1zM454 353h1v1h-1zM456 353h1v1h-1zM464 353h1v1h-1zM478 353h7v1h-7zM609 353h1v1h-1zM96 354h1v1h-1zM119 354h1v1h-1zM221 354h1v1h-1zM232 354h1v1h-1zM348 354h1v1h-1zM391 354h2v1h-2zM398 354h3v1h-3zM454 354h1v1h-1zM457 354h2v1h-2zM464 354h1v1h-1zM477 354h2v1h-2zM484 354h2v1h-2zM609 354h1v1h-1zM96 355h1v1h-1zM119 355h1v1h-1zM222 355h1v1h-1zM232 355h1v1h-1zM348 355h1v1h-1zM353 355h1v1h-1zM390 355h2v1h-2zM399 355h2v1h-2zM453 355h2v1h-2zM459 355h4v1h-4zM464 355h2v1h-2zM476 355h2v1h-2zM485 355h2v1h-2zM609 355h1v1h-1zM96 356h1v1h-1zM119 356h1v1h-1zM222 356h1v1h-1zM231 356h1v1h-1zM349 356h8v1h-8zM390 356h1v1h-1zM397 356h2v1h-2zM400 356h1v1h-1zM454 356h1v1h-1zM463 356h8v1h-8zM476 356h1v1h-1zM486 356h1v1h-1zM609 356h1v1h-1zM96 357h1v1h-1zM119 357h1v1h-1zM222 357h1v1h-1zM231 357h1v1h-1zM349 357h2v1h-2zM356 357h2v1h-2zM390 357h1v1h-1zM396 357h1v1h-1zM400 357h1v1h-1zM454 357h1v1h-1zM464 357h1v1h-1zM471 357h7v1h-7zM486 357h1v1h-1zM609 357h1v1h-1zM96 358h1v1h-1zM119 358h1v1h-1zM222 358h1v1h-1zM230 358h1v1h-1zM348 358h2v1h-2zM351 358h1v1h-1zM357 358h2v1h-2zM389 358h2v1h-2zM395 358h1v1h-1zM400 358h2v1h-2zM454 358h2v1h-2zM463 358h2v1h-2zM475 358h2v1h-2zM478 358h4v1h-4zM486 358h2v1h-2zM609 358h1v1h-1zM96 359h1v1h-1zM119 359h1v1h-1zM222 359h1v1h-1zM229 359h1v1h-1zM348 359h1v1h-1zM351 359h1v1h-1zM358 359h1v1h-1zM390 359h1v1h-1zM394 359h1v1h-1zM400 359h1v1h-1zM455 359h2v1h-2zM462 359h2v1h-2zM476 359h1v1h-1zM482 359h1v1h-1zM486 359h1v1h-1zM609 359h1v1h-1zM96 360h1v1h-1zM118 360h1v1h-1zM222 360h1v1h-1zM229 360h1v1h-1zM348 360h1v1h-1zM352 360h1v1h-1zM358 360h1v1h-1zM390 360h1v1h-1zM393 360h1v1h-1zM400 360h1v1h-1zM456 360h7v1h-7zM476 360h1v1h-1zM483 360h1v1h-1zM486 360h1v1h-1zM609 360h1v1h-1zM96 361h1v1h-1zM118 361h1v1h-1zM223 361h1v1h-1zM228 361h1v1h-1zM347 361h2v1h-2zM353 361h1v1h-1zM358 361h2v1h-2zM390 361h3v1h-3zM399 361h2v1h-2zM459 361h1v1h-1zM476 361h2v1h-2zM484 361h3v1h-3zM609 361h1v1h-1zM96 362h1v1h-1zM118 362h1v1h-1zM223 362h1v1h-1zM228 362h1v1h-1zM348 362h1v1h-1zM354 362h1v1h-1zM358 362h1v1h-1zM391 362h2v1h-2zM398 362h2v1h-2zM477 362h2v1h-2zM484 362h2v1h-2zM609 362h1v1h-1zM96 363h1v1h-1zM118 363h1v1h-1zM223 363h2v1h-2zM227 363h1v1h-1zM348 363h1v1h-1zM355 363h2v1h-2zM358 363h1v1h-1zM390 363h1v1h-1zM392 363h7v1h-7zM478 363h7v1h-7zM486 363h1v1h-1zM545 363h1v1h-1zM609 363h1v1h-1zM96 364h1v1h-1zM118 364h1v1h-1zM221 364h7v1h-7zM348 364h2v1h-2zM357 364h2v1h-2zM389 364h1v1h-1zM395 364h1v1h-1zM481 364h1v1h-1zM487 364h1v1h-1zM542 364h7v1h-7zM609 364h1v1h-1zM96 365h1v1h-1zM118 365h1v1h-1zM220 365h2v1h-2zM223 365h1v1h-1zM226 365h3v1h-3zM349 365h2v1h-2zM356 365h3v1h-3zM388 365h1v1h-1zM488 365h1v1h-1zM541 365h2v1h-2zM548 365h2v1h-2zM609 365h1v1h-1zM96 366h1v1h-1zM118 366h1v1h-1zM219 366h2v1h-2zM223 366h1v1h-1zM226 366h1v1h-1zM228 366h2v1h-2zM350 366h7v1h-7zM359 366h1v1h-1zM387 366h1v1h-1zM489 366h1v1h-1zM540 366h2v1h-2zM549 366h2v1h-2zM609 366h1v1h-1zM96 367h1v1h-1zM118 367h1v1h-1zM219 367h1v1h-1zM224 367h2v1h-2zM229 367h1v1h-1zM353 367h1v1h-1zM360 367h2v1h-2zM386 367h1v1h-1zM490 367h1v1h-1zM540 367h1v1h-1zM550 367h1v1h-1zM609 367h1v1h-1zM96 368h1v1h-1zM118 368h1v1h-1zM219 368h1v1h-1zM224 368h2v1h-2zM229 368h1v1h-1zM362 368h1v1h-1zM384 368h2v1h-2zM491 368h2v1h-2zM540 368h1v1h-1zM550 368h1v1h-1zM609 368h1v1h-1zM96 369h1v1h-1zM118 369h1v1h-1zM218 369h2v1h-2zM224 369h1v1h-1zM229 369h2v1h-2zM363 369h1v1h-1zM383 369h1v1h-1zM493 369h1v1h-1zM539 369h2v1h-2zM543 369h4v1h-4zM550 369h2v1h-2zM609 369h1v1h-1zM96 370h1v1h-1zM118 370h1v1h-1zM219 370h1v1h-1zM229 370h1v1h-1zM364 370h1v1h-1zM382 370h1v1h-1zM494 370h1v1h-1zM538 370h5v1h-5zM547 370h2v1h-2zM550 370h1v1h-1zM609 370h1v1h-1zM96 371h1v1h-1zM118 371h1v1h-1zM219 371h1v1h-1zM229 371h1v1h-1zM365 371h1v1h-1zM381 371h1v1h-1zM495 371h1v1h-1zM534 371h4v1h-4zM540 371h1v1h-1zM549 371h2v1h-2zM609 371h1v1h-1zM96 372h1v1h-1zM118 372h1v1h-1zM219 372h2v1h-2zM228 372h2v1h-2zM366 372h2v1h-2zM374 372h1v1h-1zM380 372h1v1h-1zM496 372h1v1h-1zM502 372h1v1h-1zM529 372h5v1h-5zM540 372h2v1h-2zM549 372h5v1h-5zM566 372h1v1h-1zM609 372h1v1h-1zM96 373h1v1h-1zM118 373h1v1h-1zM220 373h2v1h-2zM227 373h2v1h-2zM368 373h1v1h-1zM371 373h7v1h-7zM379 373h1v1h-1zM497 373h1v1h-1zM499 373h7v1h-7zM524 373h5v1h-5zM541 373h2v1h-2zM548 373h2v1h-2zM554 373h2v1h-2zM563 373h7v1h-7zM609 373h1v1h-1zM96 374h1v1h-1zM117 374h1v1h-1zM221 374h7v1h-7zM369 374h3v1h-3zM377 374h2v1h-2zM498 374h2v1h-2zM505 374h2v1h-2zM519 374h5v1h-5zM542 374h7v1h-7zM556 374h2v1h-2zM562 374h2v1h-2zM569 374h2v1h-2zM609 374h1v1h-1zM96 375h1v1h-1zM117 375h1v1h-1zM224 375h1v1h-1zM369 375h2v1h-2zM377 375h3v1h-3zM497 375h3v1h-3zM506 375h2v1h-2zM514 375h5v1h-5zM545 375h1v1h-1zM558 375h5v1h-5zM570 375h2v1h-2zM609 375h1v1h-1zM96 376h1v1h-1zM114 376h7v1h-7zM369 376h1v1h-1zM371 376h2v1h-2zM376 376h1v1h-1zM379 376h1v1h-1zM497 376h1v1h-1zM500 376h1v1h-1zM507 376h1v1h-1zM510 376h4v1h-4zM561 376h2v1h-2zM571 376h1v1h-1zM609 376h1v1h-1zM96 377h1v1h-1zM113 377h2v1h-2zM117 377h1v1h-1zM120 377h2v1h-2zM369 377h1v1h-1zM373 377h1v1h-1zM375 377h1v1h-1zM379 377h1v1h-1zM497 377h1v1h-1zM501 377h1v1h-1zM505 377h5v1h-5zM561 377h1v1h-1zM563 377h2v1h-2zM571 377h1v1h-1zM609 377h1v1h-1zM96 378h1v1h-1zM112 378h2v1h-2zM117 378h1v1h-1zM121 378h2v1h-2zM368 378h2v1h-2zM374 378h1v1h-1zM379 378h2v1h-2zM496 378h2v1h-2zM502 378h3v1h-3zM507 378h2v1h-2zM560 378h2v1h-2zM565 378h2v1h-2zM571 378h2v1h-2zM609 378h1v1h-1zM96 379h1v1h-1zM112 379h1v1h-1zM117 379h1v1h-1zM122 379h1v1h-1zM369 379h1v1h-1zM379 379h1v1h-1zM497 379h1v1h-1zM507 379h1v1h-1zM561 379h1v1h-1zM571 379h1v1h-1zM609 379h1v1h-1zM96 380h1v1h-1zM112 380h1v1h-1zM117 380h1v1h-1zM122 380h1v1h-1zM369 380h1v1h-1zM379 380h1v1h-1zM497 380h1v1h-1zM507 380h1v1h-1zM561 380h1v1h-1zM571 380h1v1h-1zM609 380h1v1h-1zM96 381h1v1h-1zM111 381h2v1h-2zM117 381h1v1h-1zM122 381h2v1h-2zM369 381h2v1h-2zM378 381h2v1h-2zM497 381h2v1h-2zM506 381h2v1h-2zM561 381h2v1h-2zM570 381h2v1h-2zM609 381h1v1h-1zM96 382h1v1h-1zM112 382h1v1h-1zM116 382h1v1h-1zM122 382h1v1h-1zM370 382h2v1h-2zM377 382h2v1h-2zM498 382h2v1h-2zM505 382h2v1h-2zM562 382h2v1h-2zM569 382h2v1h-2zM609 382h1v1h-1zM96 383h1v1h-1zM112 383h1v1h-1zM115 383h1v1h-1zM122 383h1v1h-1zM371 383h7v1h-7zM499 383h7v1h-7zM563 383h7v1h-7zM609 383h1v1h-1zM96 384h1v1h-1zM112 384h2v1h-2zM115 384h1v1h-1zM121 384h2v1h-2zM374 384h1v1h-1zM502 384h1v1h-1zM566 384h1v1h-1zM609 384h1v1h-1zM96 385h1v1h-1zM113 385h2v1h-2zM120 385h2v1h-2zM609 385h1v1h-1zM96 386h1v1h-1zM113 386h8v1h-8zM609 386h1v1h-1zM96 387h1v1h-1zM112 387h1v1h-1zM117 387h1v1h-1zM609 387h1v1h-1zM96 388h1v1h-1zM111 388h1v1h-1zM609 388h1v1h-1zM96 389h1v1h-1zM111 389h1v1h-1zM609 389h1v1h-1zM96 390h1v1h-1zM110 390h1v1h-1zM609 390h1v1h-1zM96 391h1v1h-1zM109 391h1v1h-1zM609 391h1v1h-1zM96 392h1v1h-1zM108 392h1v1h-1zM609 392h1v1h-1zM96 393h1v1h-1zM107 393h1v1h-1zM609 393h1v1h-1zM96 394h1v1h-1zM106 394h1v1h-1zM609 394h1v1h-1zM96 395h1v1h-1zM106 395h1v1h-1zM609 395h1v1h-1zM96 396h1v1h-1zM105 396h1v1h-1zM609 396h1v1h-1zM96 397h1v1h-1zM104 397h1v1h-1zM609 397h1v1h-1zM96 398h1v1h-1zM103 398h1v1h-1zM609 398h1v1h-1zM96 399h1v1h-1zM102 399h1v1h-1zM609 399h1v1h-1zM96 400h1v1h-1zM102 400h1v1h-1zM609 400h1v1h-1zM96 401h1v1h-1zM101 401h1v1h-1zM609 401h1v1h-1zM93 402h8v1h-8zM609 402h1v1h-1zM92 403h2v1h-2zM96 403h1v1h-1zM99 403h2v1h-2zM182 403h1v1h-1zM288 403h1v1h-1zM395 403h1v1h-1zM502 403h1v1h-1zM609 403h1v1h-1zM91 404h2v1h-2zM96 404h1v1h-1zM98 404h1v1h-1zM100 404h2v1h-2zM182 404h1v1h-1zM288 404h1v1h-1zM395 404h1v1h-1zM502 404h1v1h-1zM609 404h1v1h-1zM91 405h1v1h-1zM96 405h1v1h-1zM98 405h1v1h-1zM101 405h1v1h-1zM182 405h1v1h-1zM288 405h1v1h-1zM395 405h1v1h-1zM502 405h1v1h-1zM609 405h1v1h-1zM91 406h1v1h-1zM96 406h2v1h-2zM101 406h1v1h-1zM182 406h1v1h-1zM288 406h1v1h-1zM395 406h1v1h-1zM502 406h1v1h-1zM609 406h1v1h-1zM90 407h2v1h-2zM96 407h514v1h-514zM91 408h1v1h-1zM101 408h1v1h-1zM91 409h1v1h-1zM101 409h1v1h-1zM91 410h2v1h-2zM100 410h2v1h-2zM92 411h2v1h-2zM99 411h2v1h-2zM93 412h7v1h-7zM96 413h1v1h-1z"/>
<text class="t" y="31.7"><tspan x="98.01" style="letter-spacing:-0.335px">Figura</tspan> <tspan x="155.25" style="letter-spacing:-0.125px">4:</tspan> <tspan x="175.37" style="letter-spacing:-0.155px">Factor</tspan> <tspan x="233.14" style="letter-spacing:-0.450px">de</tspan> <tspan x="258.00" style="letter-spacing:0.044px">crecimeinto</tspan> <tspan x="358.12" style="letter-spacing:0.025px">díario</tspan> <tspan x="408.88" style="letter-spacing:0.225px">de</tspan> <tspan x="434.38" style="letter-spacing:0.321px">COVID19</tspan> <tspan x="519.12" style="letter-spacing:0.125px">en</tspan> <tspan x="544.26" style="letter-spacing:0.185px">México</tspan></text>
<text class="l" y="457.6"><tspan x="280.70" style="letter-spacing:-0.037px">Días</tspan> <tspan x="324.20" style="letter-spacing:0.113px">de</tspan> <tspan x="348.95" style="letter-spacing:0.145px">contagio</tspan></text>
<text class="yl" transform="translate(32.0 0) rotate(-90) scale(0.964 1)"><tspan x="-334.78" style="letter-spacing:0.140px">Factor</tspan> <tspan x="-274.56" style="letter-spacing:-0.350px">de</tspan> <tspan x="-249.04" style="letter-spacing:0.070px">crecimiento</tspan></text>
<g class="kx"><text transform="translate(181.80 430.2) scale(1.06 1)" text-anchor="middle">5</text><text transform="translate(287.88 430.2) scale(1.06 1)" text-anchor="middle">10</text><text transform="translate(394.75 430.2) scale(1.06 1)" text-anchor="middle">15</text><text transform="translate(501.62 430.2) scale(1.06 1)" text-anchor="middle">20</text><text transform="translate(608.50 430.2) scale(1.06 1)" text-anchor="middle">25</text></g>
<g class="ky"><text transform="translate(83.80 411.00) scale(0.955 1)" text-anchor="end">1</text><text transform="translate(82.60 353.00) scale(0.955 1)" text-anchor="end">1.2</text><text transform="translate(82.20 295.00) scale(0.955 1)" text-anchor="end">1.4</text><text transform="translate(82.60 237.00) scale(0.955 1)" text-anchor="end">1.6</text><text transform="translate(82.60 179.00) scale(0.955 1)" text-anchor="end">1.8</text><text transform="translate(83.50 121.00) scale(0.955 1)" text-anchor="end">2</text><text transform="translate(82.60 63.00) scale(0.955 1)" text-anchor="end">2.2</text></g>
</svg>
</body>
</html>
